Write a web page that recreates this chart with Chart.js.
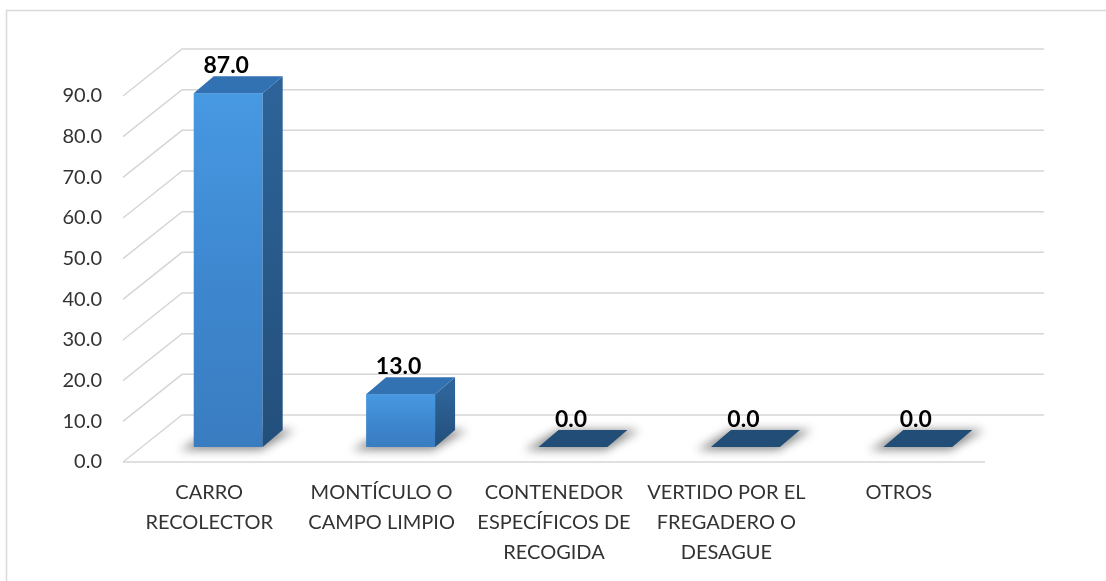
<!DOCTYPE html>
<html>
<head>
<meta charset="utf-8">
<script src="https://cdn.jsdelivr.net/npm/chart.js@4.4.1/dist/chart.umd.min.js"></script>
<style>
  html, body { margin: 0; padding: 0; background: #fff; }
  #wrap { width: 1106px; height: 581px; }
</style>
</head>
<body>
<div id="wrap"><canvas id="myChart1" width="1106" height="581"></canvas></div>
<script>
var categories = [
    ['CARRO', 'RECOLECTOR'],
    ['MONTÍCULO O', 'CAMPO LIMPIO'],
    ['CONTENEDOR', 'ESPECÍFICOS DE', 'RECOGIDA'],
    ['VERTIDO POR EL', 'FREGADERO O', 'DESAGUE'],
    ['OTROS']
];
var values = [87.0, 13.0, 0.0, 0.0, 0.0];
var yMax = 90;
var yStep = 10;

// fake 3d: back wall offset, bar plane offset, bar depth
var wallDx = 59, wallDy = -47;
var barDx = 19, barDy = -15;
var depDx = 20, depDy = -17;
var gridColor = '#d6d6d6';

var chart3d = {
    id: 'chart3d',
    beforeDraw: function (chart) {
        var ctx = chart.ctx;
        ctx.save();
        ctx.strokeStyle = '#d9d9d9';
        ctx.lineWidth = 1.5;
        ctx.strokeRect(6.5, 10.5, 1200, 700);
        ctx.restore();
    },
    beforeDatasetsDraw: function (chart) {
        var ctx = chart.ctx;
        var area = chart.chartArea;
        var y = chart.scales.y;
        ctx.save();
        ctx.strokeStyle = gridColor;
        ctx.lineWidth = 1.5;
        y.ticks.forEach(function (t) {
            var py = y.getPixelForValue(t.value);
            ctx.beginPath();
            ctx.moveTo(area.left, py);
            ctx.lineTo(area.left + wallDx, py + wallDy);
            ctx.lineTo(area.right + wallDx, py + wallDy);
            ctx.stroke();
        });
        // front edge of the floor
        var p0 = y.getPixelForValue(0);
        ctx.beginPath();
        ctx.moveTo(area.left, p0);
        ctx.lineTo(area.right, p0);
        ctx.stroke();
        ctx.restore();
    },
    afterDatasetsDraw: function (chart) {
        var ctx = chart.ctx;
        var meta = chart.getDatasetMeta(0);
        ctx.save();
        meta.data.forEach(function (el, i) {
            var w = el.width;
            var x0 = el.x - w / 2 + barDx;
            var x1 = el.x + w / 2 + barDx;
            var yt = el.y + barDy;
            var yb = el.base + barDy;

            // soft shadow on the floor
            ctx.save();
            ctx.filter = 'blur(5px)';
            ctx.fillStyle = 'rgba(0,0,0,0.45)';
            ctx.beginPath();
            ctx.moveTo(x0 - 14, yb + 3);
            ctx.lineTo(x1 - 2, yb + 3);
            ctx.lineTo(x1 + depDx + 12, yb + depDy);
            ctx.lineTo(x0 + depDx, yb + depDy);
            ctx.closePath();
            ctx.fill();
            ctx.restore();

            if (yb - yt < 1) {
                ctx.fillStyle = '#214d76';
                ctx.beginPath();
                ctx.moveTo(x0, yb);
                ctx.lineTo(x1, yb);
                ctx.lineTo(x1 + depDx, yb + depDy);
                ctx.lineTo(x0 + depDx, yb + depDy);
                ctx.closePath();
                ctx.fill();
            } else {
                var g = ctx.createLinearGradient(0, yt, 0, yb);
                g.addColorStop(0, '#4799e2');
                g.addColorStop(0.5, '#3e88d0');
                g.addColorStop(1, '#3a7cc0');
                ctx.fillStyle = g;
                ctx.fillRect(x0, yt, w, yb - yt);

                var gs = ctx.createLinearGradient(0, yt, 0, yb);
                gs.addColorStop(0, '#2d6398');
                gs.addColorStop(1, '#234f7b');
                ctx.fillStyle = gs;
                ctx.beginPath();
                ctx.moveTo(x1, yt);
                ctx.lineTo(x1 + depDx, yt + depDy);
                ctx.lineTo(x1 + depDx, yb + depDy);
                ctx.lineTo(x1, yb);
                ctx.closePath();
                ctx.fill();

                ctx.fillStyle = '#3272b3';
                ctx.beginPath();
                ctx.moveTo(x0, yt);
                ctx.lineTo(x1, yt);
                ctx.lineTo(x1 + depDx, yt + depDy);
                ctx.lineTo(x0 + depDx, yt + depDy);
                ctx.closePath();
                ctx.fill();
            }

            // value label
            ctx.fillStyle = '#000';
            ctx.font = 'bold 23px Lato';
            ctx.textAlign = 'center';
            ctx.textBaseline = 'bottom';
            ctx.fillText(values[i].toFixed(1), el.x + barDx - 2, yt + depDy + 1);
        });
        ctx.restore();
    }
};

var ctx = document.getElementById('myChart1').getContext('2d');
var thisChart = new Chart(ctx, {
    type: 'bar',
    data: {
        labels: categories,
        datasets: [{
            data: values,
            backgroundColor: 'rgba(0,0,0,0)',
            borderWidth: 0,
            barPercentage: 0.4,
            categoryPercentage: 1.0
        }]
    },
    options: {
        responsive: false,
        animation: false,
        layout: { padding: { top: 96, right: 121, bottom: 0, left: 0 } },
        plugins: {
            legend: { display: false },
            tooltip: { enabled: false }
        },
        scales: {
            x: {
                grid: { display: false, drawTicks: false },
                border: { display: false },
                ticks: {
                    color: '#333',
                    font: { family: 'Lato', size: 20, lineHeight: 1.5 },
                    padding: 16,
                    maxRotation: 0,
                    autoSkip: false
                },
                afterFit: function (axis) { axis.height = 119; }
            },
            y: {
                min: 0,
                max: yMax,
                grid: { display: false, drawTicks: false },
                border: { display: false },
                ticks: {
                    stepSize: yStep,
                    color: '#333',
                    font: { family: 'Lato', size: 20 },
                    padding: 21,
                    callback: function (v) { return v.toFixed(1); }
                },
                afterFit: function (axis) { axis.width = 123; }
            }
        }
    },
    plugins: [chart3d]
});
</script>
</body>
</html>
